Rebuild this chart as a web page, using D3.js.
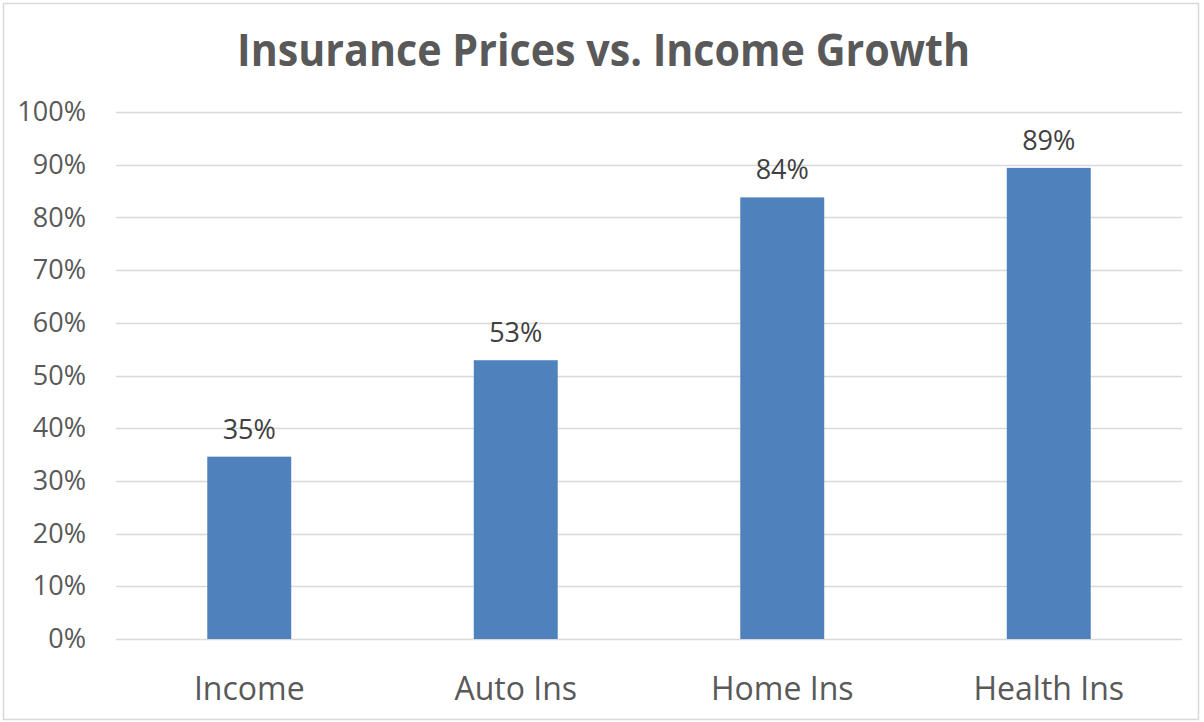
<!DOCTYPE html>
<html>
<head>
<meta charset="utf-8">
<script src="https://cdn.jsdelivr.net/npm/d3@7"></script>
<style>
  body { margin: 0; background: #fff; }
  svg { display: block; }
</style>
</head>
<body>
<div id="chart"></div>
<script>
// values (percent)
const categories = ['Income', 'Auto Ins', 'Home Ins', 'Health Ins']
const growth = [34.6, 52.9, 83.8, 89.4]
const yTicks = [0, 10, 20, 30, 40, 50, 60, 70, 80, 90, 100]

const width = 1204
const height = 722
const margin = { top: 112, right: 22, bottom: 83, left: 116 }

const svg = d3.select('#chart')
    .append('svg')
    .attr('width', width)
    .attr('height', height)

// chart border
svg.append('rect')
    .attr('x', 3.5)
    .attr('y', 3.5)
    .attr('width', 1195)
    .attr('height', 716)
    .attr('fill', '#fff')
    .attr('stroke', '#d9d9d9')
    .attr('stroke-width', 1.5)

const x = d3.scaleBand()
    .domain(categories)
    .range([margin.left, width - margin.right])
    .paddingInner(0.685)
    .paddingOuter(0.3425)

const y = d3.scaleLinear()
    .domain([0, 100])
    .range([height - margin.bottom, margin.top])

// gridlines
svg.append('g')
    .selectAll('line')
    .data(yTicks)
    .enter()
    .append('line')
    .attr('x1', margin.left)
    .attr('x2', width - margin.right)
    .attr('y1', d => Math.round(y(d)) + 0.5)
    .attr('y2', d => Math.round(y(d)) + 0.5)
    .attr('stroke', '#d9d9d9')
    .attr('stroke-width', 1.5)

// y axis labels
const yAxis = d3.axisLeft(y)
    .tickValues(yTicks)
    .tickFormat(d => d + '%')
    .tickSize(0)
    .tickPadding(30)

svg.append('g')
    .attr('transform', `translate(${margin.left}, 0)`)
    .call(yAxis)
    .call(g => g.select('.domain').remove())
    .selectAll('text')
    .attr('font-family', 'Open Sans')
    .attr('font-size', 27)
    .attr('fill', '#595959')

// x axis labels
const xAxis = d3.axisBottom(x).tickSize(0).tickPadding(38)

svg.append('g')
    .attr('transform', `translate(0, ${height - margin.bottom})`)
    .call(xAxis)
    .call(g => g.select('.domain').remove())
    .selectAll('text')
    .attr('font-family', 'Open Sans')
    .attr('font-size', 32)
    .attr('fill', '#595959')

// bars
svg.append('g')
    .selectAll('rect')
    .data(growth)
    .enter()
    .append('rect')
    .attr('x', (d, i) => x(categories[i]))
    .attr('y', d => y(d))
    .attr('width', x.bandwidth())
    .attr('height', d => y(0) - y(d))
    .attr('fill', '#4f81bd')

// data labels
svg.append('g')
    .selectAll('text')
    .data(growth)
    .enter()
    .append('text')
    .attr('x', (d, i) => x(categories[i]) + x.bandwidth() / 2)
    .attr('y', d => y(d) - 18)
    .attr('text-anchor', 'middle')
    .attr('font-family', 'Open Sans')
    .attr('font-size', 27)
    .attr('fill', '#404040')
    .text(d => Math.round(d) + '%')

// title
svg.append('text')
    .attr('x', 603.5)
    .attr('y', 66)
    .attr('text-anchor', 'middle')
    .attr('font-family', 'Open Sans')
    .attr('font-weight', 'bold')
    .attr('font-size', 45)
    .attr('fill', '#595959')
    .attr('textLength', 733)
    .attr('lengthAdjust', 'spacingAndGlyphs')
    .text('Insurance Prices vs. Income Growth')
</script>
</body>
</html>
